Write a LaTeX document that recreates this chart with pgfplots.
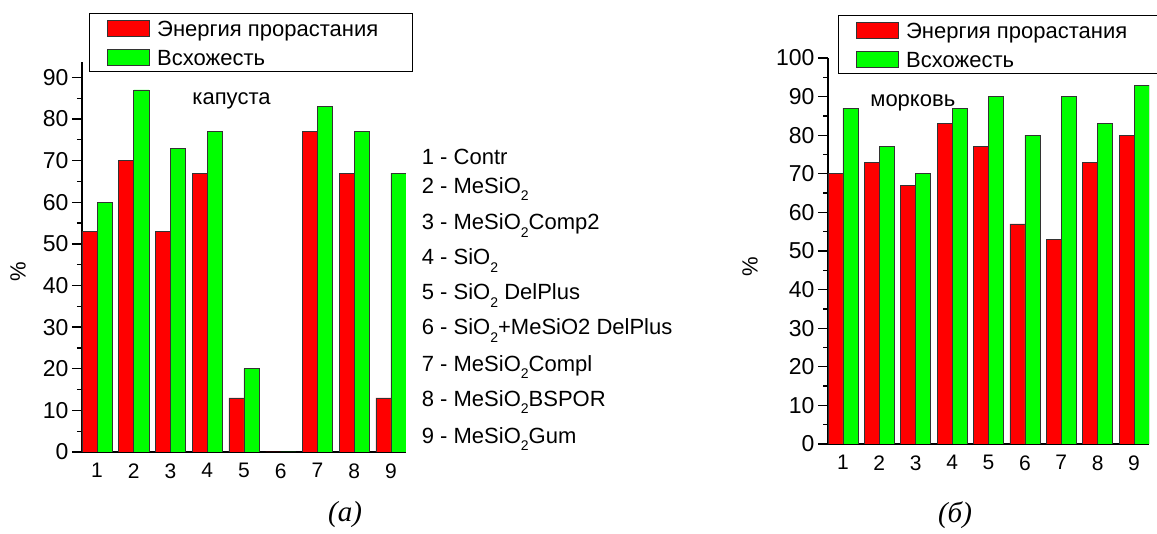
\documentclass[border=0pt]{standalone}
\usepackage{fontspec}
\setmainfont{Liberation Sans}
\newfontfamily\capfont{Liberation Serif}
\usepackage{pgfplots}
\usepackage{pgfplotstable}
\pgfplotsset{compat=1.18}

\definecolor{barred}{RGB}{255,0,0}
\definecolor{bargreen}{RGB}{0,255,0}

% chemical subscript, set low as in the original figure
\newcommand\sub[1]{\raisebox{-7.3pt}{\fontsize{14}{14}\selectfont #1}}
\newcommand\bigfont{\fontsize{22}{24}\selectfont}

% germination energy (e) and germination rate (v), %
\pgfplotstableread{
n e v
1 53 60
2 70 87
3 53 73
4 67 77
5 13 20
6 0 0
7 77 83
8 67 77
9 13 67
}\cabbage

\pgfplotstableread{
n e v
1 70 87
2 73 77
3 67 70
4 83 87
5 77 90
6 57 80
7 53 90
8 73 83
9 80 93
}\carrot

\pgfplotsset{
  seedbars/.style={
    scale only axis,
    ybar=0pt, bar width=0.41,
    axis x line*=bottom, axis y line*=left,
    axis line style={line width=1.2pt, -},
    xmin=0.59, xmax=9.41, ymin=0,
    xtick={1,...,9},
    x tick style={draw=none},
    tick align=outside,
    major tick length=10pt, minor tick length=5pt,
    y tick style={line width=1.3pt, draw=black},
    minor y tick num=1,
    /pgf/number format/assume math mode=true,
    yticklabel style={font=\fontsize{23}{25}\selectfont},
    xticklabel style={font=\fontsize{21}{23}\selectfont, yshift=2pt},
    ylabel={\%},
    label style={font=\bigfont},
    legend image code/.code={\draw[#1, line width=0.8pt] (0pt,-8pt) rectangle (42pt,8pt);},
    legend cell align=left,
    legend style={draw=black, line width=0.8pt, font=\bigfont,
      anchor=north west, inner xsep=18pt, inner ysep=1pt,
      column sep=7pt, row sep=1.7pt,
      nodes={inner sep=0pt, text height=22pt, text depth=5pt}},
  },
  redbar/.style={draw=black!80, line width=0.6pt, fill=barred},
  greenbar/.style={draw=black!80, line width=0.6pt, fill=bargreen},
}

\begin{document}
\begin{tikzpicture}
\useasboundingbox (0pt,0pt) rectangle (1157pt,534pt);

% cabbage
\begin{axis}[seedbars,
  at={(82pt,82pt)}, anchor=south west,
  width=324pt, height=390pt,
  ymax=93.7, ytick={0,10,...,90},
  ylabel style={at={(axis description cs:-0.1975,0.461)}, anchor=center},
  legend style={at={(axis description cs:0.0216,1.1248)}},
]
\addplot[redbar] table[x=n, y=e] {\cabbage};
\addlegendentry{\makebox[237pt][l]{Энергия прорастания}}
\addplot[greenbar] table[x=n, y=v] {\cabbage};
\addlegendentry{\makebox[237pt][l]{Всхожесть}}
\node[font=\bigfont] at (axis cs:4.66,84.4) {капуста};
\end{axis}

% carrot
\begin{axis}[seedbars,
  at={(828pt,90pt)}, anchor=south west,
  width=321pt, height=386pt,
  ymax=100, ytick={0,10,...,100},
  ylabel style={at={(axis description cs:-0.243,0.458)}, anchor=center},
  legend style={at={(axis description cs:0.031,1.1105)}},
]
\addplot[redbar] table[x=n, y=e] {\carrot};
\addlegendentry{\makebox[233pt][l]{Энергия прорастания}}
\addplot[greenbar] table[x=n, y=v] {\carrot};
\addlegendentry{\makebox[233pt][l]{Всхожесть}}
\node[font=\bigfont] at (axis cs:2.92,88.3) {морковь};
\end{axis}

% treatment key
\begin{scope}[every node/.style={anchor=base west, font=\bigfont, inner sep=0pt}]
\node at (421.7pt,369pt)   {1 - Contr};
\node at (421.7pt,340.7pt) {2 - MeSiO\sub{2}};
\node at (421.7pt,304pt)   {3 - MeSiO\sub{2}Comp2};
\node at (421.7pt,269pt)   {4 - SiO\sub{2}};
\node at (421.7pt,234pt)   {5 - SiO\sub{2} DelPlus};
\node at (421.7pt,199pt)   {6 - SiO\sub{2}+MeSiO2 DelPlus};
\node at (421.7pt,162.3pt) {7 - MeSiO\sub{2}Compl};
\node at (421.7pt,127.3pt) {8 - MeSiO\sub{2}BSPOR};
\node at (421.7pt,90.7pt)  {9 - MeSiO\sub{2}Gum};
\end{scope}

% panel captions
\node[font=\capfont\itshape\fontsize{29}{32}\selectfont] at (345pt,19pt) {(а)};
\node[font=\capfont\itshape\fontsize{29}{32}\selectfont] at (955pt,19pt) {(б)};
\end{tikzpicture}
\end{document}
